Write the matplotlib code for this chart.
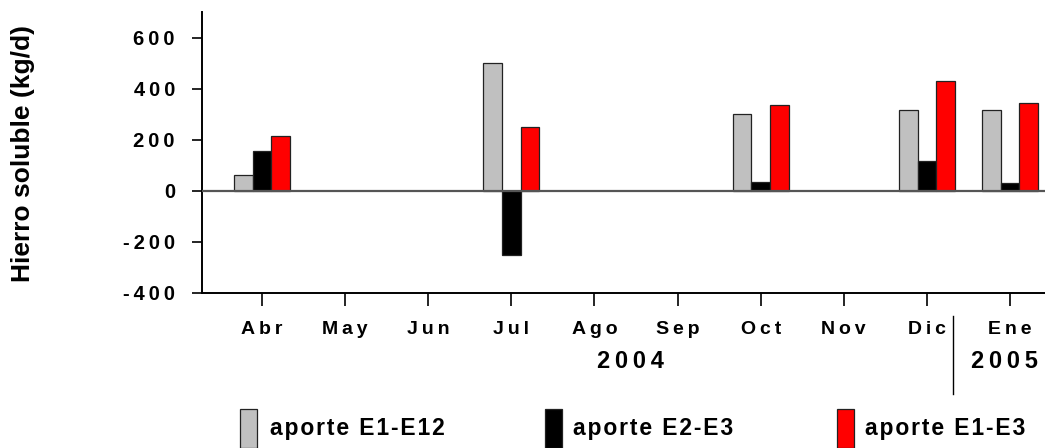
import matplotlib
matplotlib.use("Agg")
import matplotlib.pyplot as plt
from matplotlib.patches import Rectangle
import matplotlib.transforms as mtransforms

plt.rcParams['font.family'] = ['Liberation Sans', 'DejaVu Sans']
plt.rcParams['font.weight'] = 'bold'

months = ["Abr", "May", "Jun", "Jul", "Ago", "Sep", "Oct", "Nov", "Dic", "Ene"]
e1_e12 = [62, None, None, 500, None, None, 300, None, 315, 315]
e2_e3 = [155, None, None, -250, None, None, 35, None, 115, 30]
e1_e3 = [215, None, None, 250, None, None, 336, None, 428, 345]
series_names = ["aporte E1-E12", "aporte E2-E3", "aporte E1-E3"]
series_colors = ["#C0C0C0", "#000000", "#FF0000"]
yticks = [-400, -200, 0, 200, 400, 600]
years = ["2004", "2005"]

THIN = "\u2009"
HAIR = "\u200A"


def spaced(s, sep=THIN):
    return sep.join(list(s))


fig = plt.figure(figsize=(10.45, 4.48), dpi=100)
ax = fig.add_axes([202 / 1045, 1 - 293 / 448, 1 - 202 / 1045, (293 - 12) / 448])

width = 0.225
x = list(range(len(months)))
for k, (vals, col) in enumerate(zip([e1_e12, e2_e3, e1_e3], series_colors)):
    xs = [i + (k - 1) * width for i, v in enumerate(vals) if v is not None]
    hs = [v for v in vals if v is not None]
    ax.bar(xs, hs, width=width, color=col, edgecolor="#222222", linewidth=0.9, zorder=2)

ax.axhline(0, color="#555555", linewidth=1.6, zorder=3)

ax.set_xlim(-0.72, 9.42)
ax.set_ylim(-400, 700)
ax.set_yticks(yticks)
ax.set_yticklabels([spaced(str(t)) for t in yticks], fontsize=14.5, fontweight='bold')
ax.set_xticks(x)
ax.set_xticklabels([spaced(m) for m in months], fontsize=14, fontweight='bold')

for side in ["top", "right"]:
    ax.spines[side].set_visible(False)
for side in ["left", "bottom"]:
    ax.spines[side].set_linewidth(1.4)
    ax.spines[side].set_color("black")

ax.tick_params(axis='y', direction='out', length=7.5, width=1.2, pad=12)
ax.tick_params(axis='x', direction='out', length=9.5, width=1.2, pad=11)

trans = mtransforms.blended_transform_factory(ax.transData, ax.transAxes)
ax.text(4.43, -0.242, spaced(years[0]), transform=trans, ha='center', va='center',
        fontsize=17, fontweight='bold')
ax.text(8.93, -0.242, spaced(years[1]), transform=trans, ha='center', va='center',
        fontsize=17, fontweight='bold')
ax.plot([8.31, 8.31], [-(316 - 293) / 281, -(394 - 293) / 281], transform=trans,
        color="black", linewidth=1.0, clip_on=False)

fig.text(23 / 1045, 1 - 153 / 448, "Hierro soluble (kg/d)", rotation=90, ha='center',
         va='center', fontsize=19, fontweight='bold')

# legend
patch_x = [240, 545, 837]
text_x = [270, 573, 865]
for px, tx, name, col in zip(patch_x, text_x, series_names, series_colors):
    fig.patches.append(Rectangle((px / 1045, 0), 17 / 1045, (448 - 409) / 448,
                                 transform=fig.transFigure, facecolor=col,
                                 edgecolor="#222222", linewidth=0.9))
    fig.text(tx / 1045, 1 - 428 / 448, spaced(name, HAIR), ha='left', va='center',
             fontsize=16.5, fontweight='bold')

fig.savefig("out.png", dpi=100)
